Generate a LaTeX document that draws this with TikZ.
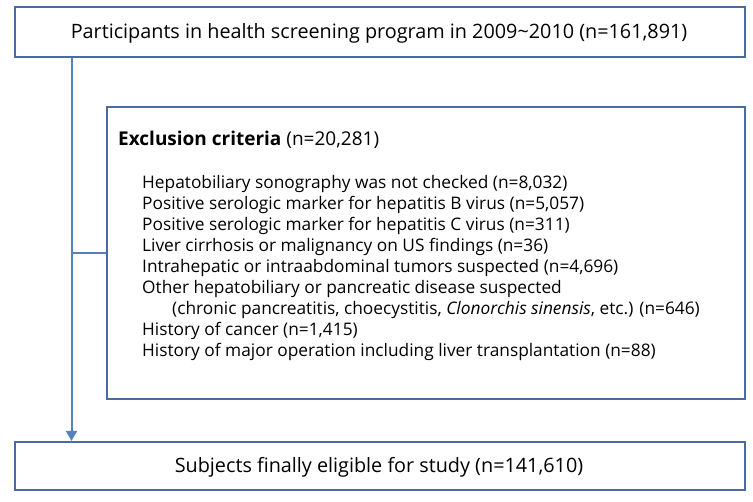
\documentclass[tikz,border=0pt]{standalone}
\usepackage{fontspec}
\setmainfont{Open Sans}
\usetikzlibrary{arrows.meta}
\definecolor{boxblue}{RGB}{72,108,160}
\definecolor{lineblue}{RGB}{84,130,190}
\begin{document}
\begin{tikzpicture}[x=1pt,y=-1pt,
  box/.style={draw=boxblue,line width=2.2pt,fill=white,rectangle,inner sep=0pt},
  conn/.style={draw=lineblue,line width=2pt},
  txt/.style={inner sep=0pt,anchor=west,font=\fontsize{17.3}{17.3}\selectfont}]
\useasboundingbox (0,0) rectangle (753,502);
\fill[white] (0,0) rectangle (753,502);
\node[box,minimum width=730pt,minimum height=50pt] (top) at (380,32) {};
\node[inner sep=0pt,font=\fontsize{19.8}{19.8}\selectfont] (toptext) at (379,33) {Participants in health screening program in 2009\textasciitilde2010 (n=161,891)};
\node[box,minimum width=638pt,minimum height=292pt] (excl) at (426,253) {};
\node[box,minimum width=730pt,minimum height=48pt] (bot) at (380,466) {};
\node[inner sep=0pt,font=\fontsize{19.8}{19.8}\selectfont] (bottext) at (379,467) {Subjects finally eligible for study (n=141,610)};
\node[inner sep=0pt,anchor=west,font=\fontsize{19}{19}\selectfont] (title) at (118,140) {\textbf{Exclusion criteria} (n=20,281)};
\node[txt] (l1) at (142,184) {Hepatobiliary sonography was not checked (n=8,032)};
\node[txt] (l2) at (142,205) {Positive serologic marker for hepatitis B virus (n=5,057)};
\node[txt] (l3) at (142,226) {Positive serologic marker for hepatitis C virus (n=311)};
\node[txt] (l4) at (142,247) {Liver cirrhosis or malignancy on US findings (n=36)};
\node[txt] (l5) at (142,268) {Intrahepatic or intraabdominal tumors suspected (n=4,696)};
\node[txt] (l6) at (142,289) {Other hepatobiliary or pancreatic disease suspected};
\node[txt] (l7) at (172,310) {(chronic pancreatitis, choecystitis, \textit{Clonorchis sinensis}, etc.) (n=646)};
\node[txt] (l8) at (142,331) {History of cancer (n=1,415)};
\node[txt] (l9) at (142,352) {History of major operation including liver transplantation (n=88)};
\coordinate (branch) at (71.5,253);
\draw[conn,-{Triangle[width=11pt,length=10pt]}] (top.south -| branch) -- (bot.north -| branch);
\draw[conn] (branch) -- (excl.west);
\end{tikzpicture}
\end{document}
